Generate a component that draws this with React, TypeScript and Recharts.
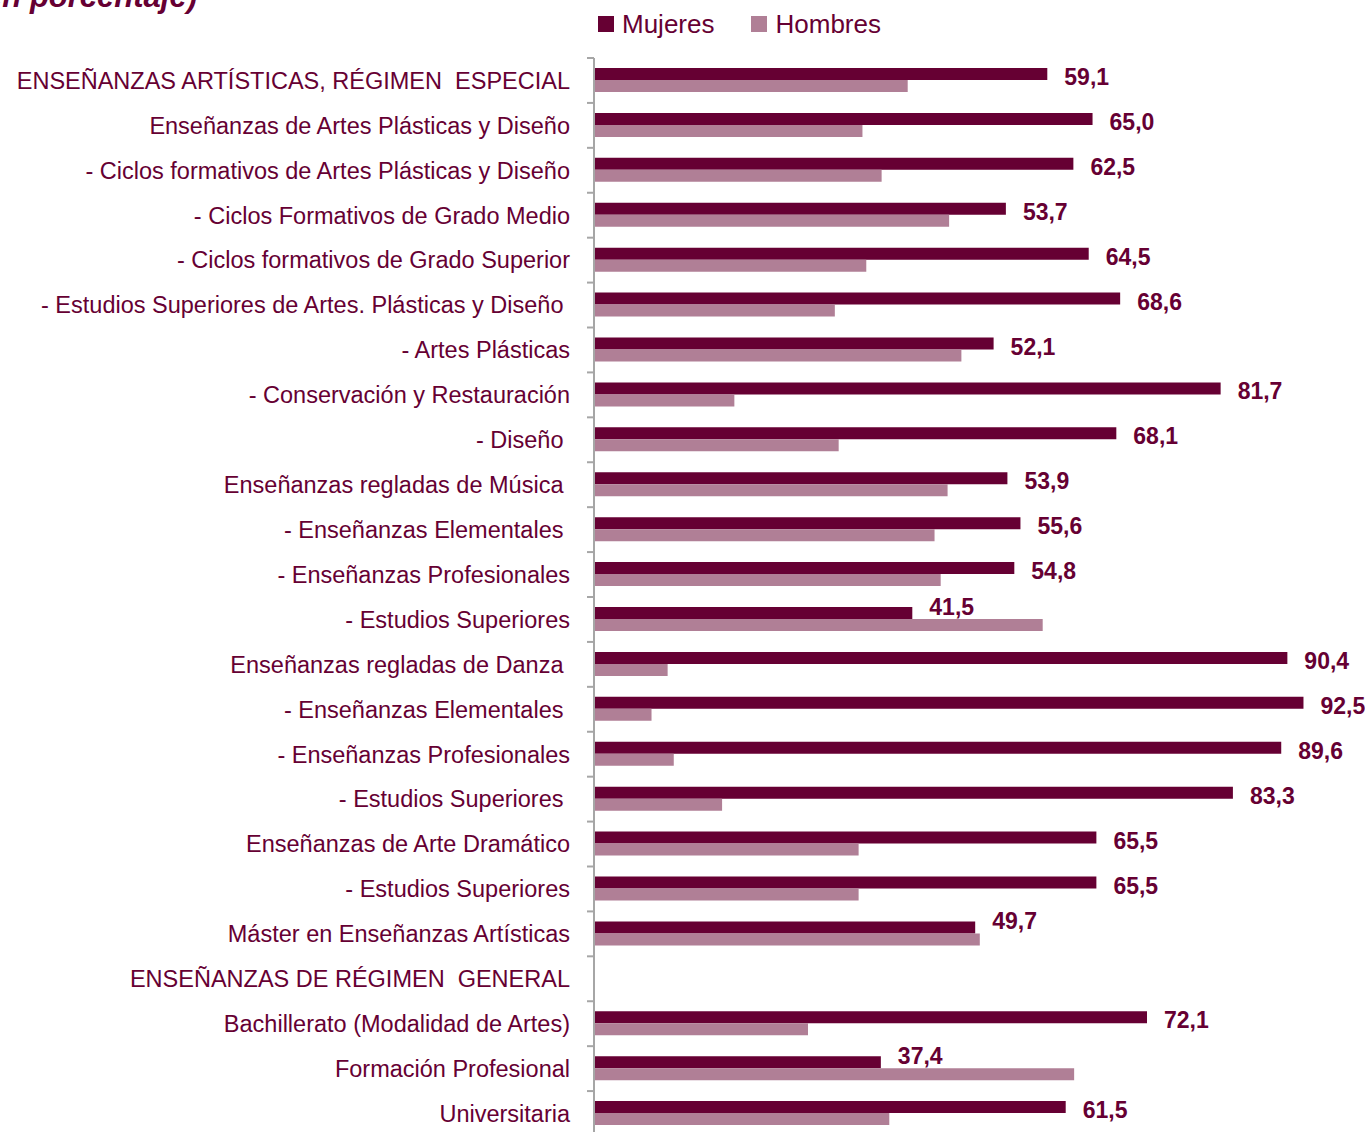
import React from 'react';
import { BarChart, Bar, XAxis, YAxis, LabelList } from 'recharts';

// categories as they appear on the axis (trailing nbsp keeps the original spacing)
const categories = [
  'ENSEÑANZAS ARTÍSTICAS, RÉGIMEN\u00a0\u00a0ESPECIAL',
  'Enseñanzas de Artes Plásticas y Diseño',
  '- Ciclos formativos de Artes Plásticas y Diseño',
  '- Ciclos Formativos de Grado Medio',
  '- Ciclos formativos de Grado Superior',
  '- Estudios Superiores de Artes. Plásticas y Diseño\u00a0',
  '- Artes Plásticas',
  '- Conservación y Restauración',
  '- Diseño\u00a0',
  'Enseñanzas regladas de Música\u00a0',
  '- Enseñanzas Elementales\u00a0',
  '- Enseñanzas Profesionales',
  '- Estudios Superiores',
  'Enseñanzas regladas de Danza\u00a0',
  '- Enseñanzas Elementales\u00a0',
  '- Enseñanzas Profesionales',
  '- Estudios Superiores\u00a0',
  'Enseñanzas de Arte Dramático',
  '- Estudios Superiores',
  'Máster en Enseñanzas Artísticas',
  'ENSEÑANZAS DE RÉGIMEN\u00a0\u00a0GENERAL',
  'Bachillerato (Modalidad de Artes)',
  'Formación Profesional',
  'Universitaria',
];

const mujeres: (number | null)[] = [
  59.1, 65.0, 62.5, 53.7, 64.5, 68.6, 52.1, 81.7, 68.1, 53.9, 55.6, 54.8,
  41.5, 90.4, 92.5, 89.6, 83.3, 65.5, 65.5, 49.7, null, 72.1, 37.4, 61.5,
];

const hombres: (number | null)[] = [
  40.9, 35.0, 37.5, 46.3, 35.5, 31.4, 47.9, 18.3, 31.9, 46.1, 44.4, 45.2,
  58.5, 9.6, 7.5, 10.4, 16.7, 34.5, 34.5, 50.3, null, 27.9, 62.6, 38.5,
];

const series = [
  { key: 'mujeres', name: 'Mujeres', color: '#660033' },
  { key: 'hombres', name: 'Hombres', color: '#b07f96' },
];

const TEXT = '#660033';
const AXIS = '#a6a6a6';
const FONT = '"Liberation Sans", Arial, sans-serif';

const data = categories.map((label, i) => ({ id: i, label, mujeres: mujeres[i], hombres: hombres[i] }));

// axis label plus a small tick at the top edge of each band
function CategoryTick(props: any) {
  const { x, y, payload } = props;
  const half = payload.offset ?? 0;
  const last = payload.index === categories.length - 1;
  return (
    <g>
      <line x1={x + 17} x2={x + 24} y1={y - half} y2={y - half} stroke={AXIS} strokeWidth={2} />
      {last && <line x1={x + 17} x2={x + 24} y1={y + half} y2={y + half} stroke={AXIS} strokeWidth={2} />}
      <text x={x} y={y} dy="0.355em" textAnchor="end" fill={TEXT} fontSize={23.5} fontFamily={FONT}>
        {categories[payload.value]}
      </text>
    </g>
  );
}

function ValueLabel(props: any) {
  const { x, y, width, value } = props;
  const i = Number(value);
  const v = mujeres[i];
  if (v == null) return null;
  // label goes up when the men's bar would run under it
  const raised = (hombres[i] ?? 0) > v;
  return (
    <text
      x={x + width + 17}
      y={raised ? y + 8 : y + 17}
      fill={TEXT}
      fontSize={23}
      fontWeight="bold"
      fontFamily={FONT}
    >
      {v.toFixed(1).replace('.', ',')}
    </text>
  );
}

export default function App() {
  return (
    <div style={{ position: 'absolute', left: 0, top: 0, width: 1365, height: 1132, overflow: 'hidden', background: '#fff', fontFamily: FONT }}>
      <svg width={300} height={20} style={{ position: 'absolute', left: 0, top: 0 }}>
        <text x={197} y={7} textAnchor="end" fontSize={31} fontStyle="italic" fontWeight="bold" fill={TEXT} fontFamily={FONT}>
          (en porcentaje)
        </text>
      </svg>

      {/* Legend */}
      <div style={{ position: 'absolute', left: 598, top: 9, display: 'flex', alignItems: 'center', color: TEXT, fontSize: 26, lineHeight: '30px' }}>
        {series.map((s, i) => (
          <div key={s.key} style={{ display: 'flex', alignItems: 'center', marginRight: i === 0 ? 37 : 0 }}>
            <span style={{ display: 'inline-block', width: 16, height: 16, background: s.color, marginRight: 8 }} />
            <span>{s.name}</span>
          </div>
        ))}
      </div>

      <BarChart
        width={1365}
        height={1136}
        data={data}
        layout="vertical"
        margin={{ top: 58, right: 4, left: 0, bottom: 0 }}
        barGap={0}
        barSize={12}
      >
        <XAxis type="number" domain={[0, 100]} hide />
        <YAxis
          type="category"
          dataKey="id"
          width={594}
          interval={0}
          tick={<CategoryTick />}
          tickLine={false}
          tickSize={0}
          tickMargin={24}
          axisLine={{ stroke: AXIS, strokeWidth: 2 }}
        />
        {series.map((s) => (
          <Bar key={s.key} dataKey={s.key} name={s.name} fill={s.color} isAnimationActive={false}>
            {s.key === 'mujeres' && <LabelList dataKey="id" content={<ValueLabel />} />}
          </Bar>
        ))}
      </BarChart>
    </div>
  );
}
